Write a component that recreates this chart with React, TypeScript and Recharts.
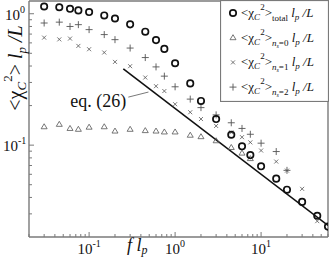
import React from "react";
import {
  ScatterChart,
  Scatter,
  XAxis,
  YAxis,
  Legend,
  ReferenceLine,
  ReferenceDot,
} from "recharts";

// f*lp values where the simulation was sampled
const fLp = [
  0.03, 0.045, 0.06, 0.075, 0.1, 0.15, 0.2, 0.3, 0.45, 0.6, 0.75, 1.0, 1.5, 2,
  3, 4.5, 6, 7.5, 10, 15, 20, 30, 45, 60,
];

// <chi_C^2> lp/L, total and per n_s
const total = [
  1.135, 1.12, 1.09, 1.06, 1.03, 0.97, 0.92, 0.83, 0.73, 0.63, 0.54, 0.42,
  0.295, 0.217, 0.158, 0.12, 0.098, 0.084, 0.069, 0.0556, 0.0458, 0.037, 0.029,
  0.024,
];
const ns0 = [
  0.138, 0.144, 0.134, 0.132, 0.137, 0.138, 0.128, 0.132, 0.129, 0.128, 0.126,
  0.126, 0.119, 0.116, 0.108, 0.096, 0.087, 0.079,
];
const ns1 = [
  0.658, 0.638, 0.647, 0.569, 0.537, 0.507, 0.43, 0.399, 0.327, 0.281, 0.258,
  0.205, 0.178, 0.158, 0.14, 0.125, 0.115, 0.105, 0.091, 0.075, 0.064, 0.0465,
  0.0264,
];
const ns2 = [
  0.85, 0.863, 0.8, 0.826, 0.757, 0.694, 0.635, 0.548, 0.464, 0.394, 0.335,
  0.278, 0.224, 0.193, 0.17, 0.148, 0.134, 0.121, 0.1035, 0.0894, 0.0643,
];

// eq. (26) asymptote, end points
const eq26F = [0.25, 60];
const eq26V = [0.38, 0.0245];

const xTicks = [
  0.02, 0.03, 0.04, 0.05, 0.06, 0.07, 0.08, 0.09, 0.1, 0.2, 0.3, 0.4, 0.5, 0.6,
  0.7, 0.8, 0.9, 1, 2, 3, 4, 5, 6, 7, 8, 9, 10, 20, 30, 40, 50, 60,
];
const yTicks = [
  0.03, 0.04, 0.05, 0.06, 0.07, 0.08, 0.09, 0.1, 0.2, 0.3, 0.4, 0.5, 0.6, 0.7,
  0.8, 0.9, 1,
];
const majorExp: Record<number, string> = { 0.1: "-1", 1: "0", 10: "1" };

const toRows = (vals: number[]) => vals.map((v, i) => ({ f: fLp[i], v }));

const AXIS = "#7a7a7a";
const GREY = "#555";
const SERIF = "'Liberation Serif', 'Times New Roman', serif";
const LEFT = 29;
const BOTTOM = 237;

const XTick = (props: any) => {
  const { x, payload } = props;
  const exp = majorExp[payload.value];
  return (
    <g>
      <line x1={x} x2={x} y1={BOTTOM} y2={BOTTOM - (exp ? 5 : 3)} stroke={AXIS} />
      {exp && (
        <text x={x} y={254} textAnchor="middle" fontFamily={SERIF} fontSize={15} fill="#111">
          10
          <tspan dy={-7} fontSize={10}>
            {exp}
          </tspan>
        </text>
      )}
    </g>
  );
};

const YTick = (props: any) => {
  const { y, payload } = props;
  const exp = majorExp[payload.value];
  return (
    <g>
      <line x1={LEFT} x2={LEFT + (exp ? 5 : 3)} y1={y} y2={y} stroke={AXIS} />
      {exp && (
        <text x={exp === "0" ? 5 : 3} y={y + 6} fontFamily={SERIF} fontSize={15} fill="#111">
          10
          <tspan dy={-7} fontSize={10}>
            {exp}
          </tspan>
        </text>
      )}
    </g>
  );
};

const XTitle = () => (
  <text x={127} y={251} fontFamily={SERIF} fontSize={18} fontStyle="italic" fill="#111">
    f l
    <tspan dy={3} fontSize={12}>
      p
    </tspan>
  </text>
);

const YTitle = () => (
  <text
    x={68}
    y={22}
    transform="rotate(-90 68 68)"
    textAnchor="middle"
    fontFamily={SERIF}
    fontSize={20}
    fill="#111"
  >
    {"<\u03c7"}
    <tspan dy={4} fontSize={13} fontStyle="italic">
      C
    </tspan>
    <tspan dy={-14} fontSize={13}>
      2
    </tspan>
    <tspan dy={10}>{">"}</tspan>
    <tspan fontStyle="italic"> l</tspan>
    <tspan dy={4} fontSize={13} fontStyle="italic">
      p
    </tspan>
    <tspan dy={-4} fontStyle="italic">
      {" /L"}
    </tspan>
  </text>
);

const Circle = (p: any) => (
  <circle cx={p.cx} cy={p.cy} r={3.2} fill="none" stroke="#111" strokeWidth={1.7} />
);
const Tri = (p: any) => (
  <path
    d={`M${p.cx},${p.cy - 3} L${p.cx + 3},${p.cy + 2} L${p.cx - 3},${p.cy + 2} Z`}
    fill="none"
    stroke={GREY}
    strokeWidth={0.8}
  />
);
const Cross = (p: any) => (
  <path
    d={`M${p.cx - 2},${p.cy - 2} L${p.cx + 2},${p.cy + 2} M${p.cx - 2},${p.cy + 2} L${p.cx + 2},${p.cy - 2}`}
    fill="none"
    stroke={GREY}
    strokeWidth={0.8}
  />
);
const Plus = (p: any) => (
  <path
    d={`M${p.cx - 3.5},${p.cy} L${p.cx + 3.5},${p.cy} M${p.cx},${p.cy - 3.5} L${p.cx},${p.cy + 3.5}`}
    fill="none"
    stroke={GREY}
    strokeWidth={0.9}
  />
);
const NoDot = () => <g />;

const legendRows = [
  { sub: "total", shape: Circle, ns: false },
  { sub: "0", shape: Tri, ns: true },
  { sub: "1", shape: Cross, ns: true },
  { sub: "2", shape: Plus, ns: true },
];

const LegendBox = () => (
  <svg width={109} height={102} style={{ display: "block" }}>
    <rect x={0.5} y={0.5} width={108} height={101} fill="#fff" stroke={AXIS} strokeWidth={1.2} />
    {legendRows.map((r, i) => {
      const y = 17 + i * 24.7;
      const S = r.shape;
      return (
        <g key={i}>
          <S cx={13} cy={y - 4} />
          <text x={21} y={y} fontFamily={SERIF} fontSize={13} fill="#111">
            {"<\u03c7"}
            <tspan dy={3} fontSize={9} fontStyle="italic">
              C
            </tspan>
            <tspan dy={-10} fontSize={9}>
              2
            </tspan>
            <tspan dy={7}>{">"}</tspan>
            {r.ns ? (
              <>
                <tspan dy={4} fontSize={9} fontStyle="italic">
                  n
                </tspan>
                <tspan dy={2} fontSize={6} fontStyle="italic">
                  s
                </tspan>
                <tspan dy={-2} fontSize={9}>
                  {"=" + r.sub}
                </tspan>
              </>
            ) : (
              <tspan dy={4} fontSize={9}>
                {r.sub}
              </tspan>
            )}
            <tspan dy={-4} fontStyle="italic">
              {" l"}
            </tspan>
            <tspan dy={3} fontSize={9} fontStyle="italic">
              p
            </tspan>
            <tspan dy={-3} fontStyle="italic">
              {" /L"}
            </tspan>
          </text>
        </g>
      );
    })}
  </svg>
);

export default function App() {
  return (
    <div style={{ position: "absolute", left: 0, top: 0 }}>
      <ScatterChart width={331} height={258} margin={{ top: 1, right: 3, bottom: 0, left: 0 }}>
        <XAxis
          dataKey="f"
          type="number"
          scale="log"
          domain={[0.02, 60]}
          ticks={xTicks}
          interval={0}
          tick={<XTick />}
          tickLine={false}
          axisLine={{ stroke: AXIS, strokeWidth: 1.4 }}
          height={21}
          allowDataOverflow
          label={<XTitle />}
        />
        <YAxis
          dataKey="v"
          type="number"
          scale="log"
          domain={[0.02, 1.25]}
          ticks={yTicks}
          interval={0}
          tick={<YTick />}
          tickLine={false}
          axisLine={{ stroke: AXIS, strokeWidth: 1.4 }}
          width={29}
          allowDataOverflow
          label={<YTitle />}
        />
        <ReferenceLine x={60} stroke={AXIS} strokeWidth={1.4} />
        <ReferenceLine y={1.25} stroke={AXIS} strokeWidth={1.4} />
        <Legend
          layout="vertical"
          align="center"
          verticalAlign="middle"
          wrapperStyle={{ left: 220, top: 0, width: 109, height: 102 }}
          content={<LegendBox />}
        />
        <Scatter
          name="eq26"
          data={eq26F.map((f, i) => ({ f, v: eq26V[i] }))}
          line={{ stroke: "#111", strokeWidth: 1.6 }}
          shape={<NoDot />}
          fill="#111"
          isAnimationActive={false}
        />
        <ReferenceLine
          segment={[
            { x: 0.286, y: 0.232 },
            { x: 0.49, y: 0.2535 },
          ]}
          stroke={GREY}
          strokeWidth={0.8}
        />
        <ReferenceDot
          x={0.128}
          y={0.22}
          r={0}
          fill="none"
          stroke="none"
          label={{ value: "eq. (26)", position: "center", fontFamily: SERIF, fontSize: 18, fill: "#111" }}
        />
        <Scatter data={toRows(ns0)} shape={<Tri />} fill={GREY} stroke={GREY} isAnimationActive={false} />
        <Scatter data={toRows(ns1)} shape={<Cross />} fill={GREY} stroke={GREY} isAnimationActive={false} />
        <Scatter data={toRows(ns2)} shape={<Plus />} fill={GREY} stroke={GREY} isAnimationActive={false} />
        <Scatter data={toRows(total)} shape={<Circle />} fill="#111" stroke="#111" isAnimationActive={false} />
      </ScatterChart>
    </div>
  );
}
